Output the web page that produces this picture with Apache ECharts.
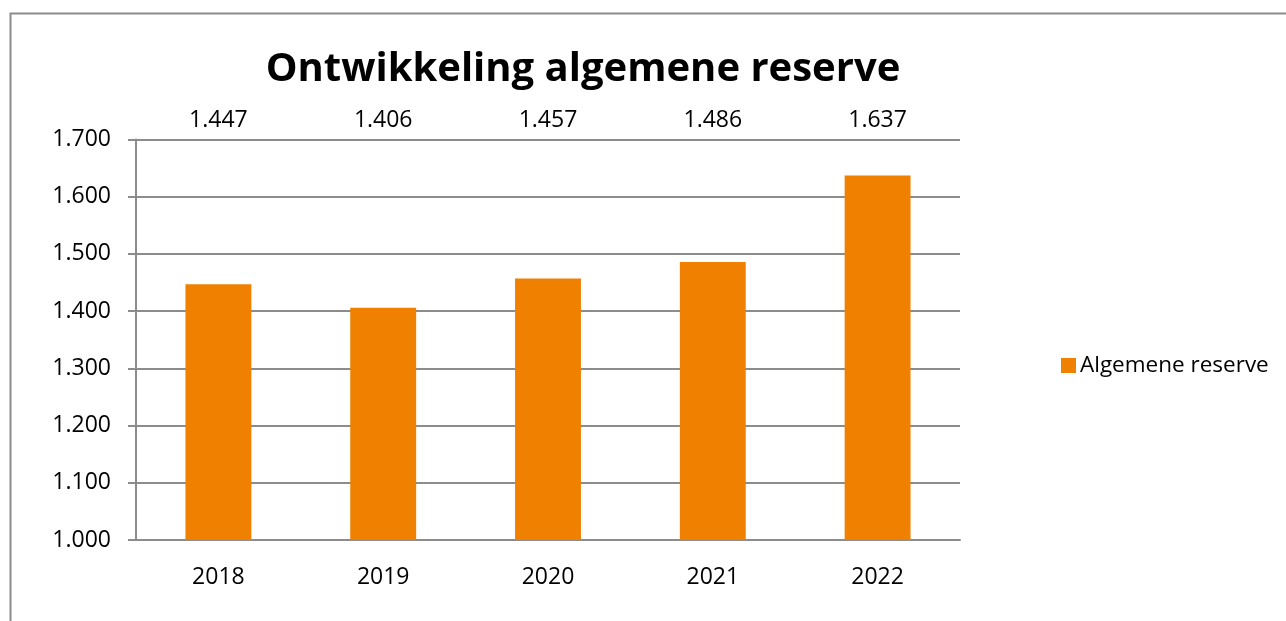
<!DOCTYPE html>
<html><head><meta charset="utf-8">
<script src="https://cdn.jsdelivr.net/npm/echarts@6/dist/echarts.min.js"></script>
<style>html,body{margin:0;padding:0;background:#fff}#c{width:1286px;height:621px}</style>
</head><body><div id="c"></div>
<script>
const categories = ['2018', '2019', '2020', '2021', '2022'];
const values = [1.447, 1.406, 1.457, 1.486, 1.637];
const seriesName = 'Algemene reserve';
const titleText = 'Ontwikkeling algemene reserve';
const yMin = 1.0, yMax = 1.7, yStep = 0.1;

const fmt = v => v.toFixed(3).replace('.', ',').replace(/^(\d+),/, '$1.');
const font = 'Open Sans';
const chart = echarts.init(document.getElementById('c'));
chart.setOption({
  animation: false,
  backgroundColor: '#fff',
  graphic: [{type:'polyline', shape:{points:[[10.5,621],[10.5,13.5],[1286,13.5]]}, style:{stroke:'#8c8c8c', lineWidth:2, fill:null}}],
  title: {text: titleText, left: 578, top: 45, textAlign:'center',
    textStyle:{fontFamily:font, fontWeight:'bold', fontSize:40, color:'#000'}},
  legend: {orient:'vertical', left:1056, top:349, itemWidth:15, itemHeight:15, itemGap:0,
    icon:'rect', textStyle:{fontFamily:font, fontSize:22.5, color:'#000', padding:[0,0,0,-1]},
    data:[seriesName]},
  grid: {left:136, right:326, top:139.5, bottom:81, containLabel:false},
  xAxis: {type:'category', data:categories,
    axisLine:{lineStyle:{color:'#8c8c8c', width:2}}, axisTick:{show:false},
    axisLabel:{fontFamily:font, fontSize:23, color:'#000', margin:26}},
  yAxis: {type:'value', min:yMin, max:yMax, interval:yStep,
    axisLine:{show:true, lineStyle:{color:'#8c8c8c', width:2}},
    axisTick:{show:true, length:8, lineStyle:{color:'#8c8c8c', width:2}},
    splitLine:{lineStyle:{color:'#8c8c8c', width:2}},
    axisLabel:{fontFamily:font, fontSize:23, color:'#000', margin:25, formatter: v => fmt(v)}},
  series: [
    {name:seriesName, type:'bar', data:values, barWidth:'40%', itemStyle:{color:'#F08000'}},
    {type:'custom', data: values.map((v,i)=>[i,v]), silent:true, z:10,
      renderItem: (params, api) => {
        const p = api.coord([api.value(0), yMax]);
        return {type:'text', x:p[0], y:p[1]-19,
          style:{text: fmt(api.value(1)), textAlign:'center', textVerticalAlign:'middle',
            font:'23px "Open Sans"', fill:'#000'}};
      }}
  ]
});
</script></body></html>
